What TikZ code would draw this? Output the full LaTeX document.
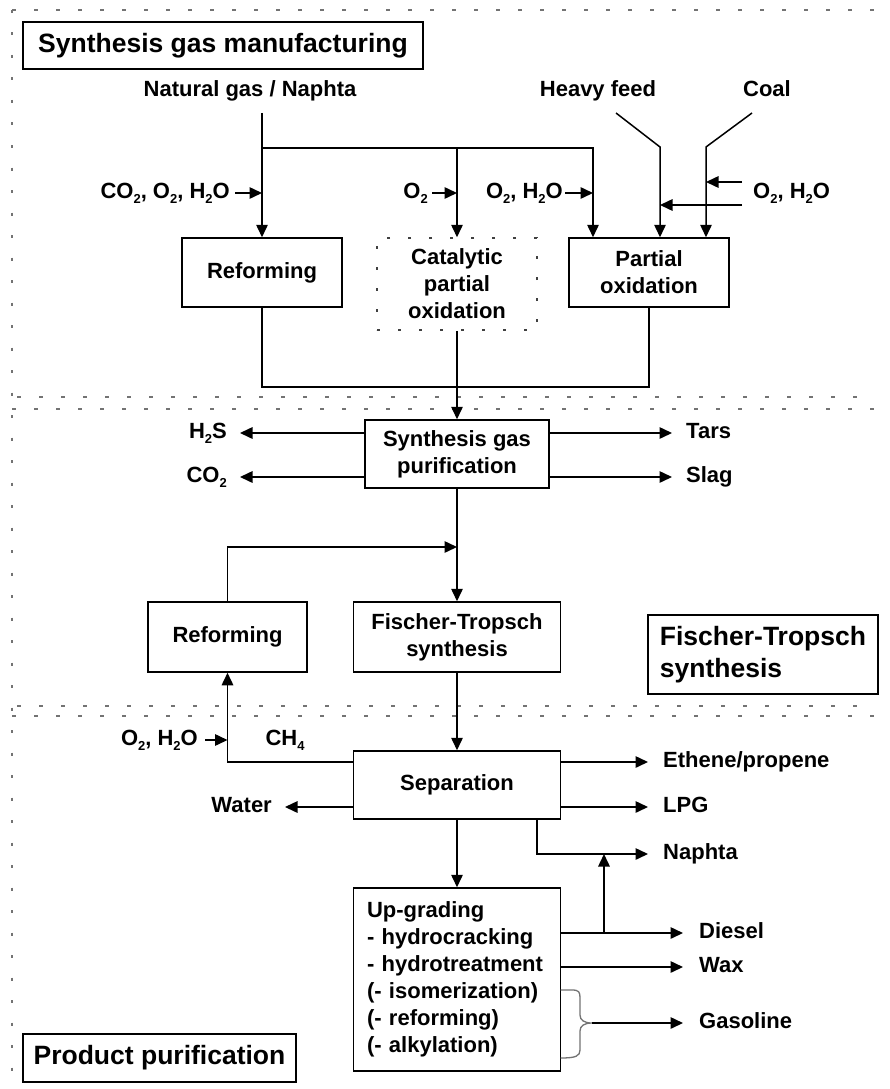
\documentclass[tikz,border=0pt]{standalone}
\usepackage{fontspec}
\setmainfont{Liberation Sans}
\usetikzlibrary{arrows.meta,calc}
\newcommand{\mysub}[1]{\raisebox{-4.5pt}{\fontsize{13}{13}\selectfont #1}}
\newcommand{\lblfont}{\fontsize{22}{27}\selectfont\bfseries}
\newcommand{\ttlfont}{\fontsize{26.5}{32}\selectfont\bfseries}
\tikzset{
  box/.style={draw=black, line width=1.5pt, fill=white, font=\lblfont, align=center, inner sep=0pt},
  ttlbox/.style={draw=black, line width=1.5pt, fill=white, font=\ttlfont, inner sep=0pt},
  flow/.style={line width=1.5pt, -{Triangle[length=12.5pt,width=11.5pt]}},
  plain/.style={line width=1.5pt},
  lab/.style={font=\lblfont, inner sep=0pt, text=black, text height=16pt, text depth=5pt},
  secline/.style={draw=black!55, line width=2pt, dash pattern=on 4pt off 18pt},
  secvline/.style={draw=black!55, line width=2pt, dash pattern=on 3pt off 19.5pt},
  bracestyle/.style={draw=black!55, line width=1.3pt}
}
\begin{document}
\begin{tikzpicture}[x=1pt,y=-1pt]
\useasboundingbox (0,0) rectangle (889,1089);
\fill[white] (0,0) rectangle (889,1089);

% section borders
\draw[secline] (12,10) -- (889,10);
\draw[secvline] (12,10) -- (12,1089);
\draw[secline] (17,397) -- (873,397);
\draw[secline] (12,409) -- (889,409);
\draw[secline] (17,706) -- (873,706);
\draw[secline] (12,716) -- (889,716);

% section titles
\node[ttlbox, minimum width=400pt, minimum height=47pt] (t1) at (223,45.5) {Synthesis gas manufacturing};
\node[ttlbox, align=left, minimum width=230pt, minimum height=79pt] (t2) at (763,654.5) {Fischer-Tropsch\\synthesis};
\node[ttlbox, minimum width=273pt, minimum height=48pt] (t3) at (159.5,1058) {Product purification};

% process boxes
\node[box, minimum width=160pt, minimum height=69pt] (ref1) at (262,272.5) {Reforming};
\node[box, draw=black!75, dash pattern=on 3pt off 18pt, minimum width=160pt, minimum height=92pt] (cpo) at (457,284) {Catalytic\\partial\\oxidation};
\node[box, minimum width=160pt, minimum height=69pt] (pox) at (649,272.5) {Partial\\oxidation};
\node[box, minimum width=184pt, minimum height=68pt] (sgp) at (457,454) {Synthesis gas\\purification};
\node[box, minimum width=159pt, minimum height=70pt] (ref2) at (227.5,637) {Reforming};
\node[box, minimum width=207pt, minimum height=70pt] (ft) at (457,637) {Fischer-Tropsch\\synthesis};
\node[box, minimum width=207pt, minimum height=68pt] (sep) at (457,785) {Separation};
\node[box, align=left, text width=180pt, inner xsep=13.5pt, minimum height=183pt] (upg) at (457,979.5) {Up-grading\\- hydrocracking\\- hydrotreatment\\(- isomerization)\\(- reforming)\\(- alkylation)};

% feed labels
\node[lab] (ng) at (250,91) {Natural gas / Naphta};
\node[lab] (hf) at (598,91) {Heavy feed};
\node[lab] (coal) at (767,91) {Coal};
\node[lab, anchor=east] (l1) at (230,193) {CO\mysub{2}, O\mysub{2}, H\mysub{2}O};
\node[lab, anchor=east] (l2) at (428,193) {O\mysub{2}};
\node[lab, anchor=east] (l3) at (563,193) {O\mysub{2}, H\mysub{2}O};
\node[lab, anchor=west] (l4) at (753,193) {O\mysub{2}, H\mysub{2}O};

% purification labels
\node[lab, anchor=east] (h2s) at (227,433) {H\mysub{2}S};
\node[lab, anchor=east] (co2) at (227,477) {CO\mysub{2}};
\node[lab, anchor=west] (tars) at (686,433) {Tars};
\node[lab, anchor=west] (slag) at (686,477) {Slag};

% product labels
\node[lab, anchor=east] (l5) at (198,740) {O\mysub{2}, H\mysub{2}O};
\node[lab] (ch4) at (285,740) {CH\mysub{4}};
\node[lab, anchor=east] (water) at (272,807) {Water};
\node[lab, anchor=west] (eth) at (663,762) {Ethene/propene};
\node[lab, anchor=west] (lpg) at (663,807) {LPG};
\node[lab, anchor=west] (naph) at (663,854) {Naphta};
\node[lab, anchor=west] (dies) at (699,933) {Diesel};
\node[lab, anchor=west] (wax) at (699,967) {Wax};
\node[lab, anchor=west] (gas) at (699,1023) {Gasoline};

% ---- synthesis gas manufacturing connectors
\coordinate (ngtop) at (262,113);
\coordinate (br) at (262,148);
\coordinate (brR) at (593,148);
\draw[flow] (ngtop) -- (ref1.north);
\draw[flow] (br) -- (brR) -- (brR |- pox.north);
\draw[flow] (br -| cpo.north) -- (cpo.north);
\coordinate (hf0) at (616,113);
\coordinate (hf1) at (660,147);
\draw[flow] (hf0) -- (hf1) -- (hf1 |- pox.north);
\coordinate (c0) at (752,113);
\coordinate (c1) at (706,147);
\draw[flow] (c0) -- (c1) -- (c1 |- pox.north);
\coordinate (o3a) at (742,182);
\coordinate (o3b) at (742,205);
\draw[flow] (o3a) -- (o3a -| c1);
\draw[flow] (o3b) -- (o3b -| hf1);
\draw[flow, shorten <=5pt] (l1.east) -- (l1.east -| ref1.north);
\draw[flow, shorten <=4pt] (l2.east) -- (l2.east -| cpo.north);
\draw[flow, shorten <=2pt] (l3.east) -- (l3.east -| brR);

\coordinate (coll) at (457,387);
\draw[plain] (ref1.south) -- (ref1.south |- coll) -- (pox.south |- coll) -- (pox.south);
\draw[flow] (cpo.south) -- (sgp.north);

% ---- purification
\draw[flow, shorten >=13pt] (sgp.west |- h2s.east) -- (h2s.east);
\draw[flow, shorten >=13pt] (sgp.west |- co2.east) -- (co2.east);
\draw[flow, shorten >=14pt] (sgp.east |- tars.west) -- (tars.west);
\draw[flow, shorten >=14pt] (sgp.east |- slag.west) -- (slag.west);

% ---- FT
\coordinate (rcy) at (457,547);
\draw[flow] (sgp.south) -- (ft.north);
\draw[flow] (ref2.north) -- (ref2.north |- rcy) -- (rcy);
\draw[flow] (ft.south) -- (sep.north);

% ---- separation
\coordinate (chl) at (353,762);
\draw[flow] (sep.west |- chl) -- (ref2.south |- chl) -- (ref2.south);
\draw[flow, shorten <=7pt] (l5.east) -- (l5.east -| ref2.south);
\draw[flow, shorten >=13pt] (sep.west |- water.east) -- (water.east);
\draw[flow, shorten >=15pt] (sep.east |- eth.west) -- (eth.west);
\draw[flow, shorten >=15pt] (sep.east |- lpg.west) -- (lpg.west);
\coordinate (nj) at (537,819);
\draw[flow, shorten >=15pt] (nj) |- (naph.west);
\draw[flow] (sep.south) -- (upg.north);

% ---- upgrading
\draw[flow, shorten >=16pt] (upg.east |- dies.west) -- (dies.west);
\coordinate (dj) at (604,933);
\draw[flow] (dj) -- (dj |- naph.west);
\draw[flow, shorten >=16pt] (upg.east |- wax.west) -- (wax.west);
\coordinate (bt) at (592,1023);
\draw[bracestyle] (560.5,990) -- (572,990) .. controls (579,990) and (580,992) .. (580,998) -- (580,1015)
  .. controls (580,1020) and (584,1023) .. (bt)
  .. controls (584,1023) and (580,1026) .. (580,1031) -- (580,1050)
  .. controls (580,1056) and (576,1058) .. (560.5,1058);
\draw[flow, shorten >=16pt] (bt) -- (gas.west);
\end{tikzpicture}
\end{document}
